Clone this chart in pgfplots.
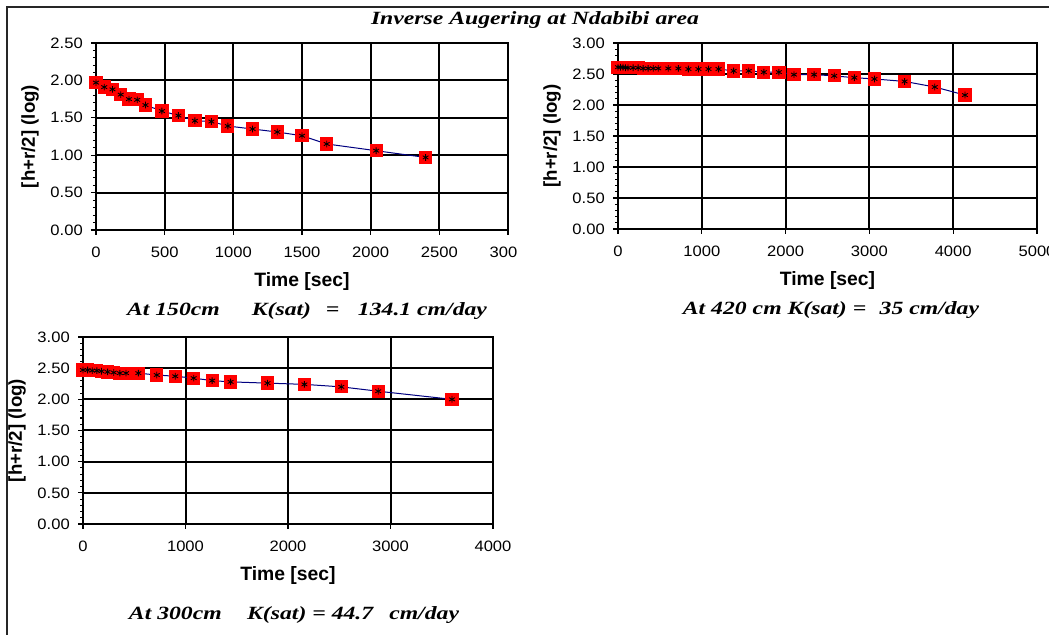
\documentclass[border=0pt]{standalone}
\usepackage{pgfplots}
\pgfplotsset{compat=1.18}
\usepackage{pgfplotstable}
\usepackage{fontspec}
\setmainfont{Liberation Serif}
\newfontfamily\wideserif[FakeStretch=1.27]{Liberation Serif}
\newfontfamily\arial{Liberation Sans}
\newfontfamily\arialw[FakeStretch=1.1]{Liberation Sans}
\definecolor{navyline}{RGB}{0,0,128}

\pgfplotstableread{
t v
0 1.97
60 1.91
120 1.88
180 1.81
240 1.75
300 1.74
360 1.67
480 1.59
600 1.53
720 1.46
840 1.45
960 1.39
1140 1.35
1320 1.31
1500 1.26
1680 1.15
2040 1.06
2400 0.97
}\dataA

\pgfplotstableread{
t v
0 2.61
30 2.61
60 2.61
90 2.60
120 2.60
180 2.60
240 2.60
300 2.59
360 2.59
420 2.59
480 2.59
600 2.59
720 2.59
840 2.58
960 2.58
1080 2.58
1200 2.58
1380 2.55
1560 2.55
1740 2.53
1920 2.53
2100 2.49
2340 2.49
2580 2.47
2820 2.44
3060 2.42
3420 2.38
3780 2.29
4140 2.16
}\dataB

\pgfplotstableread{
t v
0 2.47
45 2.47
90 2.46
135 2.46
180 2.45
240 2.44
300 2.43
360 2.42
420 2.42
540 2.42
720 2.39
900 2.37
1080 2.34
1260 2.30
1440 2.28
1800 2.26
2160 2.24
2520 2.20
2880 2.13
3600 2.00
}\dataC

\pgfplotsset{
  excel/.style={
    scale only axis,
    axis line style={line width=1.5pt},
    grid=major,
    major grid style={line width=1.5pt, black},
    tick align=outside,
    xtick pos=bottom, ytick pos=left,
    major tick length=3.75pt,
    minor tick length=2.25pt,
    every tick/.style={black, line width=0.8pt},
    minor y tick num=4,
    scaled ticks=false,
    ymin=0, xmin=0,
    tick label style={font=\arialw\fontsize{11.3}{13}\selectfont},
    /pgf/number format/assume math mode=true,
    yticklabel style={/pgf/number format/.cd, fixed, fixed zerofill, precision=2, /tikz/.cd, anchor=east, inner sep=0pt, xshift=-6pt},
    xticklabel style={/pgf/number format/.cd, fixed, precision=0, 1000 sep={}, /tikz/.cd, anchor=north, inner sep=0pt, yshift=-8.5pt},
    every axis x label/.style={at={(axis description cs:0.5,0)}, anchor=center, yshift=-39pt, font=\arial\bfseries\fontsize{14.5}{16}\selectfont},
    every axis y label/.style={at={(axis description cs:0,0.5)}, xshift=-49.5pt, rotate=90, anchor=center, font=\arial\bfseries\fontsize{14}{16}\selectfont},
    xlabel={Time [sec]},
    ylabel={[h+r/2] (log)},
  },
  series/.style={navyline, line width=0.75pt, mark=square*, mark size=4.6pt, mark options={fill=red, draw=red, solid, line width=0pt}},
  stars/.style={only marks, mark=asterisk, mark size=2.5pt, mark options={black, line width=0.65pt}},
}

\begin{document}
\begin{tikzpicture}
\useasboundingbox (0,0) rectangle (786.75pt,476.25pt);
\draw[line width=1.1pt, black!85] (5.25pt,-2pt) -- (5.25pt,471pt) -- (790pt,471pt);

\node[font=\wideserif\bfseries\itshape\fontsize{14}{16}\selectfont] at (401.25pt,461.25pt) {Inverse Augering at Ndabibi area};

% Chart 1
\begin{axis}[excel, at={(72pt,303.75pt)}, anchor=south west,
  width=309pt, height=140.25pt,
  xmax=3000, ymax=2.5,
  xtick={0,500,1000,1500,2000,2500,3000},
  xticklabels={0,500,1000,1500,2000,2500,\rlap{300}\phantom{3000}},
  ytick={0,0.5,1,1.5,2,2.5}]
\addplot[series] table[x=t,y=v] {\dataA};
\addplot[stars] table[x=t,y=v] {\dataA};
\end{axis}

% Chart 2
\begin{axis}[excel, at={(463.5pt,304.5pt)}, anchor=south west,
  width=314.25pt, height=139.5pt,
  xmax=5000, ymax=3,
  xtick={0,1000,2000,3000,4000,5000},
  ytick={0,0.5,1,1.5,2,2.5,3}]
\addplot[series] table[x=t,y=v] {\dataB};
\addplot[stars] table[x=t,y=v] {\dataB};
\end{axis}

% Chart 3
\begin{axis}[excel, at={(62.25pt,83.25pt)}, anchor=south west,
  width=307.5pt, height=140.25pt,
  xmax=4000, ymax=3,
  xtick={0,1000,2000,3000,4000},
  ytick={0,0.5,1,1.5,2,2.5,3}]
\addplot[series] table[x=t,y=v] {\dataC};
\addplot[stars] table[x=t,y=v] {\dataC};
\end{axis}

\node[font=\wideserif\bfseries\itshape\fontsize{14}{16}\selectfont] at (230.25pt,243pt) {At 150cm\hspace{24pt}K(sat)\hspace{11pt}=\hspace{14pt}134.1 cm/day};
\node[font=\wideserif\bfseries\itshape\fontsize{14}{16}\selectfont] at (623.25pt,243.75pt) {At 420 cm K(sat) =\hspace{10pt}35 cm/day};
\node[font=\wideserif\bfseries\itshape\fontsize{14}{16}\selectfont] at (220.5pt,15pt) {At 300cm\hspace{19pt}K(sat) = 44.7\hspace{12pt}cm/day};
\end{tikzpicture}
\end{document}
